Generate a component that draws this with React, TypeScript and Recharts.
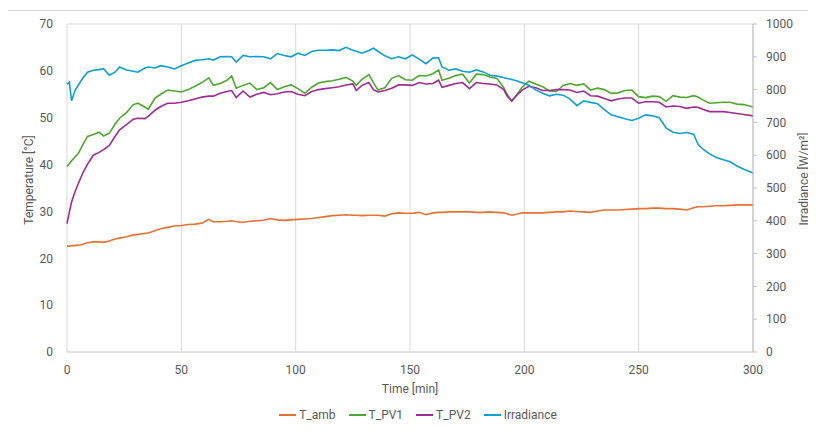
import React from 'react';
import { LineChart, Line, XAxis, YAxis, CartesianGrid, Legend, Label } from 'recharts';

// time in minutes
const time = [
  0, 1, 2, 3.5, 5, 7, 9, 11.5, 14, 16,
  18.5, 21, 23, 26, 29, 31, 34, 35.5, 38.5, 41,
  44, 47, 50, 53, 56, 59, 62, 64, 67, 70,
  72, 74, 77, 80, 83, 86, 89, 92, 95, 98,
  101, 104, 107, 110, 113, 116, 119, 122, 125, 126.5,
  129, 132, 134, 136, 139, 142, 145, 148, 151, 154,
  157, 160, 162.5, 164, 167, 170, 173, 176, 179, 182,
  185, 188, 191, 192.5, 194.5, 196.5, 199, 202, 205, 208,
  211, 214, 217, 220, 223, 226, 229, 232, 235, 238,
  241, 244, 247, 250, 253, 256, 259, 262, 265, 268,
  271, 274, 276, 278, 281, 284, 287, 290, 293, 296,
  300,
];

const tAmb = [
  22.6, 22.6, 22.7, 22.7, 22.8, 23.0, 23.3, 23.5, 23.5, 23.4,
  23.7, 24.1, 24.3, 24.6, 25.0, 25.1, 25.3, 25.4, 25.9, 26.3,
  26.6, 26.9, 27.0, 27.2, 27.3, 27.5, 28.3, 27.8, 27.8, 27.9,
  28.0, 27.8, 27.7, 27.9, 28.0, 28.1, 28.5, 28.2, 28.1, 28.2,
  28.3, 28.4, 28.5, 28.7, 28.9, 29.1, 29.2, 29.3, 29.2, 29.2,
  29.1, 29.2, 29.2, 29.2, 29.0, 29.5, 29.7, 29.6, 29.6, 29.8,
  29.3, 29.7, 29.8, 29.8, 29.9, 29.9, 29.9, 29.9, 29.8, 29.8,
  29.9, 29.8, 29.7, 29.5, 29.2, 29.4, 29.7, 29.7, 29.7, 29.7,
  29.8, 29.9, 29.9, 30.1, 30.0, 29.9, 29.8, 30.1, 30.3, 30.3,
  30.3, 30.4, 30.5, 30.6, 30.6, 30.7, 30.7, 30.6, 30.6, 30.5,
  30.3, 30.8, 31.0, 31.0, 31.1, 31.2, 31.2, 31.3, 31.4, 31.4,
  31.4,
];

const tPv1 = [
  39.6, 40.2, 40.8, 41.6, 42.4, 44.3, 46.0, 46.4, 46.9, 46.1,
  46.7, 48.6, 49.9, 51.1, 52.8, 53.1, 52.3, 51.8, 54.2, 55.0,
  55.9, 55.7, 55.5, 56.0, 56.7, 57.5, 58.5, 56.9, 57.3, 58.0,
  58.9, 56.3, 56.9, 57.4, 56.0, 56.4, 57.5, 56.0, 56.6, 57.0,
  56.2, 55.2, 56.5, 57.4, 57.7, 57.9, 58.2, 58.6, 57.8, 56.9,
  58.2, 59.2, 57.5, 55.9, 56.4, 58.4, 59.0, 58.1, 58.0, 59.0,
  58.9, 59.4, 60.2, 58.0, 58.4, 59.0, 59.3, 57.4, 59.3, 59.2,
  58.7, 58.4, 56.4, 55.0, 53.5, 54.8, 56.5, 57.8, 57.2, 56.6,
  55.7, 55.6, 56.9, 57.3, 56.9, 57.2, 55.9, 56.3, 56.0, 55.2,
  55.3, 55.8, 55.9, 54.5, 54.3, 54.6, 54.5, 53.5, 54.7, 54.4,
  54.3, 54.7, 54.4, 53.8, 53.1, 53.2, 53.3, 53.3, 52.9, 52.8,
  52.3,
];

const tPv2 = [
  27.4, 29.8, 32.0, 34.2, 36.0, 38.3, 40.1, 42.0, 42.6, 43.2,
  44.1, 46.0, 47.4, 48.5, 49.7, 49.9, 49.8, 50.3, 51.6, 52.4,
  53.1, 53.1, 53.3, 53.6, 54.0, 54.4, 54.6, 54.6, 55.2, 55.6,
  55.8, 54.3, 55.7, 54.4, 55.0, 55.4, 54.9, 55.1, 55.5, 55.6,
  55.0, 54.7, 55.6, 56.0, 56.2, 56.4, 56.6, 57.0, 57.2, 55.8,
  56.9, 57.5, 56.0, 55.5, 55.8, 56.3, 57.0, 57.0, 56.9, 57.5,
  57.2, 57.3, 58.0, 56.5, 56.9, 57.3, 57.5, 56.2, 57.5, 57.3,
  57.2, 57.0, 56.0, 54.6, 53.6, 54.7, 55.9, 56.7, 56.4, 55.8,
  55.8, 56.0, 56.0, 55.9, 55.4, 55.7, 54.7, 54.6, 54.1, 53.6,
  54.0, 54.2, 54.2, 53.1, 53.4, 53.4, 53.3, 52.3, 52.5, 52.4,
  52.0, 52.3, 52.2, 51.8, 51.3, 51.3, 51.3, 51.1, 50.9, 50.7,
  50.4,
];

// W/m2
const irradiance = [
  817, 823, 766, 797, 814, 836, 853, 859, 861, 864,
  844, 853, 869, 860, 856, 853, 866, 869, 866, 873,
  869, 863, 873, 881, 889, 891, 894, 890, 900, 901,
  900, 884, 904, 900, 901, 900, 894, 910, 904, 900,
  911, 904, 916, 920, 920, 921, 919, 929, 920, 917,
  911, 919, 926, 917, 903, 894, 900, 894, 906, 893,
  879, 896, 897, 869, 859, 863, 856, 853, 860, 854,
  844, 841, 837, 834, 831, 827, 821, 813, 799, 789,
  781, 786, 783, 771, 751, 766, 761, 757, 739, 723,
  717, 711, 706, 713, 723, 720, 714, 683, 670, 666,
  669, 664, 633, 619, 604, 593, 586, 580, 567, 557,
  546,
];

const timeTicks = [0, 50, 100, 150, 200, 250, 300];
const tempTicks = [0, 10, 20, 30, 40, 50, 60, 70];
const irrTicks = [0, 100, 200, 300, 400, 500, 600, 700, 800, 900, 1000];
const legendOrder = ['T_amb', 'T_PV1', 'T_PV2', 'Irradiance'];

const rows = time.map((t, i) => ({
  t,
  tAmb: tAmb[i],
  tPv1: tPv1[i],
  tPv2: tPv2[i],
  irr: irradiance[i],
}));

const grey = '#595959';
const gridColor = '#d9d9d9';
const tickStyle = { fill: grey, fontSize: 12 };

const LegendContent = (props: any) => {
  const items = [...(props.payload || [])].sort(
    (a: any, b: any) => legendOrder.indexOf(a.value) - legendOrder.indexOf(b.value)
  );
  return (
    <div style={{ display: 'flex', justifyContent: 'center', gap: 13, fontSize: 12, color: grey }}>
      {items.map((it: any) => (
        <span key={it.value} style={{ display: 'inline-flex', alignItems: 'center' }}>
          <svg width={17} height={10} style={{ marginRight: 3 }}>
            <line x1={0} y1={5} x2={17} y2={5} stroke={it.color} strokeWidth={2} />
          </svg>
          {it.value}
        </span>
      ))}
    </div>
  );
};

export default function App() {
  return (
    <div
      style={{
        position: 'relative',
        margin: '-8px 0 0 -8px',
        width: 816,
        height: 431,
        overflow: 'hidden',
        background: '#fff',
        fontFamily: 'Roboto, sans-serif',
      }}
    >
      <div
        style={{
          position: 'absolute',
          left: 6,
          top: 10,
          width: 840,
          height: 460,
          border: '1px solid #d9d9d9',
        }}
      />
      <div style={{ position: 'absolute', left: 0, top: 0 }}>
        <LineChart
          width={816}
          height={431}
          data={rows}
          margin={{ top: 24, right: 0, left: 0, bottom: 24 }}
        >
          <CartesianGrid stroke={gridColor} strokeWidth={1} />
          <XAxis
            dataKey="t"
            type="number"
            domain={[0, 300]}
            ticks={timeTicks}
            tick={tickStyle}
            tickLine={false}
            tickSize={0}
            tickMargin={13}
            axisLine={{ stroke: gridColor }}
            height={41}
          >
            <Label value="Time [min]" position="insideBottom" offset={0} style={{ fill: grey, fontSize: 12 }} />
          </XAxis>
          <YAxis
            yAxisId="left"
            domain={[0, 70]}
            ticks={tempTicks}
            tick={tickStyle}
            tickLine={false}
            tickSize={0}
            tickMargin={14}
            axisLine={false}
            width={67}
          >
            <Label
              value="Temperature [°C]"
              angle={-90}
              position="center"
              dx={-5}
              dy={-8}
              style={{ fill: grey, fontSize: 12 }}
            />
          </YAxis>
          <YAxis
            yAxisId="right"
            orientation="right"
            domain={[0, 1000]}
            ticks={irrTicks}
            tick={tickStyle}
            tickLine={{ stroke: '#bfbfbf' }}
            tickSize={4}
            tickMargin={9}
            axisLine={{ stroke: '#bfbfbf' }}
            width={63}
          >
            <Label
              value="Irradiance [W/m²]"
              angle={-90}
              position="center"
              dx={19}
              dy={-9}
              style={{ fill: grey, fontSize: 12 }}
            />
          </YAxis>
          <Legend
            verticalAlign="bottom"
            content={LegendContent}
            wrapperStyle={{ top: 408, left: 10, width: 816 }}
          />
          <Line yAxisId="left" dataKey="tAmb" name="T_amb" stroke="#E97132" strokeWidth={1.6} dot={false} isAnimationActive={false} />
          <Line yAxisId="left" dataKey="tPv1" name="T_PV1" stroke="#4EA72E" strokeWidth={1.6} dot={false} isAnimationActive={false} />
          <Line yAxisId="left" dataKey="tPv2" name="T_PV2" stroke="#A02B93" strokeWidth={1.6} dot={false} isAnimationActive={false} />
          <Line yAxisId="right" dataKey="irr" name="Irradiance" stroke="#0F9ED5" strokeWidth={1.6} dot={false} isAnimationActive={false} />
        </LineChart>
      </div>
    </div>
  );
}
